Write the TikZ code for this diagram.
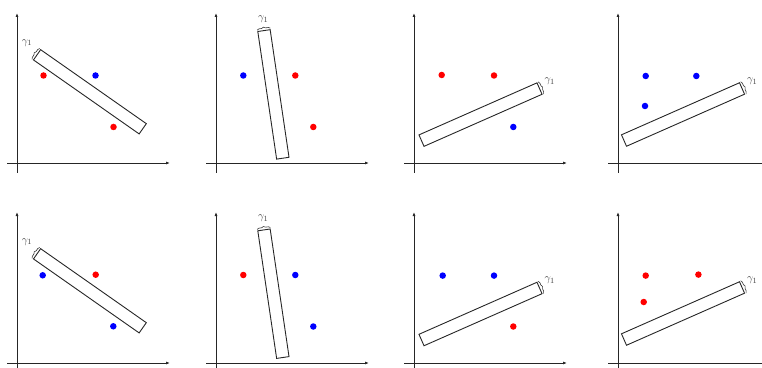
\documentclass[tikz,border=0pt]{standalone}
\usetikzlibrary{arrows.meta,decorations.pathreplacing}

\begin{document}
\begin{tikzpicture}[
        x=1pt, y=1pt,
        axis/.style={line width=0.9pt, black!85, -{Latex[length=4pt,width=3pt]}},
        strip/.style={draw=black!85, line width=0.9pt, minimum width=129pt, minimum height=12.5pt, inner sep=0pt},
        dotr/.style={circle, fill=red, minimum size=6.5pt, inner sep=0pt},
        dotb/.style={circle, fill=blue, minimum size=6.5pt, inner sep=0pt},
        brace/.style={decorate, decoration={brace, amplitude=2pt, raise=1pt}, line width=0.6pt, black!80},
        gam/.style={font=\fontsize{11}{13}\selectfont, text=black!75, inner sep=0pt}
    ]
    \useasboundingbox (0,0) rectangle (762,367);

    % --- Top row ---
    \begin{scope}[shift={(17,204)}]
        \draw[axis] (-10,0) -- (153,0);
        \draw[axis] (0,-10) -- (0,150);
        \node[strip, rotate=-35] (s1) at (72.9,71.2) {};
        \draw[brace] (s1.south west) -- (s1.north west);
        \node[gam] (g1) at ([shift={(-9.7,11.7)}]s1.west) {$\gamma_1$};
        \node[dotr] (a1) at (26.5,87.5) {};
        \node[dotb] (b1) at (78.5,87.5) {};
        \node[dotr] (c1) at (96.5,36) {};
    \end{scope}

    \begin{scope}[shift={(216,204)}]
        \draw[axis] (-10,0) -- (153,0);
        \draw[axis] (0,-10) -- (0,150);
        \node[strip, rotate=-81.6] (s2) at (57.4,68.6) {};
        \draw[brace] (s2.south west) -- (s2.north west);
        \node[gam] (g2) at ([shift={(-0.7,10.8)}]s2.west) {$\gamma_1$};
        \node[dotb] (a2) at (27.3,87.5) {};
        \node[dotr] (b2) at (79.3,87.5) {};
        \node[dotr] (c2) at (97.3,36) {};
    \end{scope}

    \begin{scope}[shift={(414,204)}]
        \draw[axis] (-10,0) -- (153,0);
        \draw[axis] (0,-10) -- (0,150);
        \node[strip, rotate=23.8] (s3) at (66.5,48.4) {};
        \draw[brace] (s3.north east) -- (s3.south east);
        \node[gam] (g3) at ([shift={(9.8,7.1)}]s3.east) {$\gamma_1$};
        \node[dotr] (a3) at (27.7,88) {};
        \node[dotr] (b3) at (80,87.5) {};
        \node[dotb] (c3) at (99.3,36) {};
    \end{scope}

    \begin{scope}[shift={(618,204)}]
        \draw[axis] (-10,0) -- (153,0);
        \draw[axis] (0,-10) -- (0,150);
        \node[strip, rotate=23.8] (s4) at (65,48.5) {};
        \draw[brace] (s4.north east) -- (s4.south east);
        \node[gam] (g4) at ([shift={(9.8,7.1)}]s4.east) {$\gamma_1$};
        \node[dotb] (a4) at (27.7,87) {};
        \node[dotb] (b4) at (78.3,87) {};
        \node[dotb] (c4) at (27,57) {};
    \end{scope}

    % --- Bottom row (colours swapped) ---
    \begin{scope}[shift={(17,4)}]
        \draw[axis] (-10,0) -- (153,0);
        \draw[axis] (0,-10) -- (0,151);
        \node[strip, rotate=-35] (s5) at (72.9,72.2) {};
        \draw[brace] (s5.south west) -- (s5.north west);
        \node[gam] (g5) at ([shift={(-9.7,11.7)}]s5.west) {$\gamma_1$};
        \node[dotb] (a5) at (25.7,87.7) {};
        \node[dotr] (b5) at (78.7,88.3) {};
        \node[dotb] (c5) at (96.3,36.7) {};
    \end{scope}

    \begin{scope}[shift={(216,4)}]
        \draw[axis] (-10,0) -- (153,0);
        \draw[axis] (0,-10) -- (0,151);
        \node[strip, rotate=-81.6] (s6) at (57.4,69.3) {};
        \draw[brace] (s6.south west) -- (s6.north west);
        \node[gam] (g6) at ([shift={(-0.7,10.8)}]s6.west) {$\gamma_1$};
        \node[dotr] (a6) at (27.3,88) {};
        \node[dotb] (b6) at (79.3,88) {};
        \node[dotb] (c6) at (97.3,36.5) {};
    \end{scope}

    \begin{scope}[shift={(414,4)}]
        \draw[axis] (-10,0) -- (153,0);
        \draw[axis] (0,-10) -- (0,151);
        \node[strip, rotate=23.8] (s7) at (66.5,49) {};
        \draw[brace] (s7.north east) -- (s7.south east);
        \node[gam] (g7) at ([shift={(9.8,7.1)}]s7.east) {$\gamma_1$};
        \node[dotb] (a7) at (28.7,87.4) {};
        \node[dotb] (b7) at (80,87.4) {};
        \node[dotr] (c7) at (99.3,36.5) {};
    \end{scope}

    \begin{scope}[shift={(618,4)}]
        \draw[axis] (-10,0) -- (153,0);
        \draw[axis] (0,-10) -- (0,151);
        \node[strip, rotate=23.8] (s8) at (65,49.5) {};
        \draw[brace] (s8.north east) -- (s8.south east);
        \node[gam] (g8) at ([shift={(9.8,7.1)}]s8.east) {$\gamma_1$};
        \node[dotr] (a8) at (27.7,87.4) {};
        \node[dotr] (b8) at (80.4,88.4) {};
        \node[dotr] (c8) at (25.7,61) {};
    \end{scope}

\end{tikzpicture}
\end{document}
